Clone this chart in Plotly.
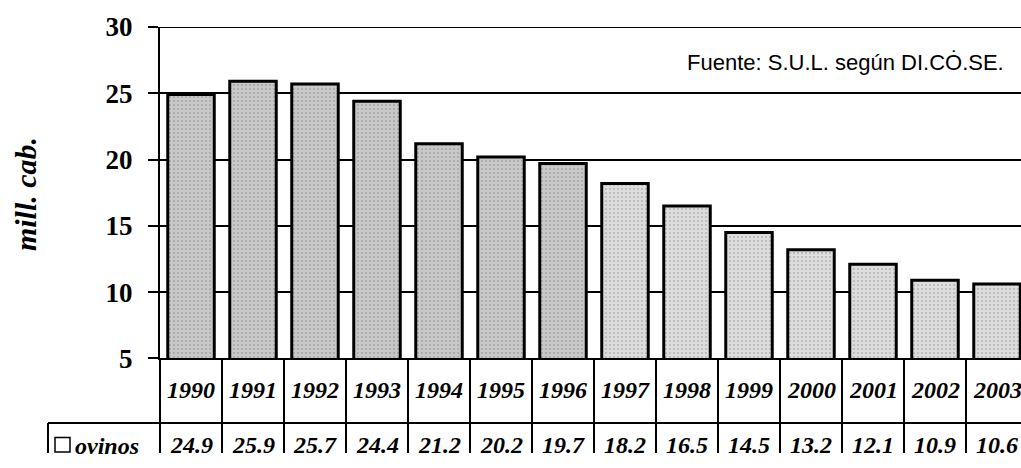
import plotly.graph_objects as go

# Sheep stock (millions of head), 1990-2003
years = ["1990", "1991", "1992", "1993", "1994", "1995", "1996",
         "1997", "1998", "1999", "2000", "2001", "2002", "2003"]
ovinos = [24.9, 25.9, 25.7, 24.4, 21.2, 20.2, 19.7,
          18.2, 16.5, 14.5, 13.2, 12.1, 10.9, 10.6]
y_ticks = [5, 10, 15, 20, 25, 30]
y_tick_labels = ["5", "10", "15", "20", "25", "30"]
series_name = "ovinos"
y_title = "mill. cab."
source_note = "Fuente: S.U.L. según DI.CȮ.SE."

# Fill shades: earlier years a little darker than later ones
bar_fills = ["#c8c8c8"] * 7 + ["#dddddd"] * 7

W, H = 1021, 468
ML, MT = 160, 27
PLOT_W = W - ML
PLOT_H = H - MT
BAR_BOTTOM = 370          # pixel row of the value 5 line
TABLE_H = H - BAR_BOTTOM  # pixel height of the data-table strip
ROW_SPLIT = 67            # years row height (pixels)


def px_x(p):
    return (p - ML) / PLOT_W


def px_y(p):
    return (H - p) / PLOT_H


serif = "Liberation Serif, Times New Roman, serif"
sans = "Liberation Sans, Arial, sans-serif"
cell_font = dict(family=serif, size=24, color="black",
                 weight="bold", style="italic")

fig = go.Figure()
fig.add_trace(go.Bar(
    x=years, y=ovinos, name=series_name,
    marker=dict(
        color=bar_fills,
        line=dict(color="black", width=3),
        pattern=dict(shape=".", fgcolor="#a8a8a8", bgcolor=bar_fills,
                     size=4, solidity=0.12),
    ),
    xaxis="x", yaxis="y", showlegend=False, hoverinfo="skip",
))

n_cat = len(years)
cat_px = 62.0
x_hi = -0.5 + PLOT_W / cat_px

shapes = []
# vertical cell separators of the data table (both rows)
for k in range(1, n_cat + 1):
    shapes.append(dict(type="line", xref="x", yref="y2",
                       x0=k - 0.5, x1=k - 0.5, y0=0, y1=TABLE_H,
                       line=dict(color="black", width=2)))
# left border of the table and of the value row label cell
shapes.append(dict(type="line", xref="paper", yref="paper",
                   x0=0, x1=0, y0=0, y1=px_y(BAR_BOTTOM),
                   line=dict(color="black", width=2)))
shapes.append(dict(type="line", xref="paper", yref="paper",
                   x0=px_x(48), x1=1, y0=px_y(BAR_BOTTOM + ROW_SPLIT),
                   y1=px_y(BAR_BOTTOM + ROW_SPLIT),
                   line=dict(color="black", width=2)))
shapes.append(dict(type="line", xref="paper", yref="paper",
                   x0=px_x(48), x1=px_x(48), y0=0,
                   y1=px_y(BAR_BOTTOM + ROW_SPLIT),
                   line=dict(color="black", width=2)))
# legend key square
shapes.append(dict(type="rect", xref="paper", yref="paper",
                   x0=px_x(55), x1=px_x(70), y0=px_y(467), y1=px_y(452),
                   line=dict(color="black", width=1.5), fillcolor="white"))
# top border at the top of the value range
shapes.append(dict(type="line", xref="paper", yref="y",
                   x0=0, x1=1, y0=y_ticks[-1], y1=y_ticks[-1],
                   line=dict(color="black", width=2)))

annotations = []
for i, (yr, v) in enumerate(zip(years, ovinos)):
    annotations.append(dict(x=i, y=px_y(BAR_BOTTOM + 33), xref="x",
                            yref="paper", text=yr,
                            xanchor="center", yanchor="middle",
                            showarrow=False, font=cell_font))
    annotations.append(dict(x=i, y=px_y(BAR_BOTTOM + 90), xref="x",
                            yref="paper", text=f"{v:.1f}",
                            xanchor="center", yanchor="middle",
                            showarrow=False, font=cell_font))
annotations.append(dict(x=px_x(73), y=px_y(461), xref="paper", yref="paper",
                        xanchor="left", yanchor="middle", text=series_name,
                        showarrow=False, font=cell_font))
annotations.append(dict(x=px_x(25), y=px_y(200), xref="paper", yref="paper",
                        xanchor="center", yanchor="middle",
                        text=y_title, textangle=-90, showarrow=False,
                        font=dict(family=serif, size=30, color="black",
                                  weight="bold", style="italic")))
annotations.append(dict(x=px_x(1006), y=px_y(64), xref="paper", yref="paper",
                        xanchor="right", yanchor="middle", text=source_note,
                        showarrow=False,
                        font=dict(family=sans, size=22, color="black")))

fig.update_layout(
    width=W, height=H, autosize=False,
    margin=dict(l=ML, r=0, t=MT, b=0, pad=0),
    paper_bgcolor="white", plot_bgcolor="white",
    bargap=0.25,
    showlegend=False,
    xaxis=dict(type="category", categoryorder="array", categoryarray=years,
               range=[-0.5, x_hi], anchor="y",
               showticklabels=False, ticks="", showgrid=False,
               showline=True, linecolor="black", linewidth=2,
               zeroline=False, fixedrange=True),
    yaxis=dict(domain=[TABLE_H / PLOT_H, 1], range=[5, 30], anchor="x",
               tickvals=y_ticks, ticktext=y_tick_labels,
               ticks="outside", ticklen=10, tickwidth=2, tickcolor="black",
               ticklabelstandoff=10,
               showgrid=True, gridcolor="black", gridwidth=2,
               showline=True, linecolor="black", linewidth=2,
               zeroline=False, fixedrange=True,
               tickfont=dict(family=serif, size=27, color="black",
                             weight="bold")),
    yaxis2=dict(domain=[0, TABLE_H / PLOT_H], range=[TABLE_H, 0],
                anchor="x", showticklabels=False, ticks="", showgrid=False,
                showline=False, zeroline=False, fixedrange=True),
    shapes=shapes,
    annotations=annotations,
)

fig.write_html("out.html", config={"displayModeBar": False})
